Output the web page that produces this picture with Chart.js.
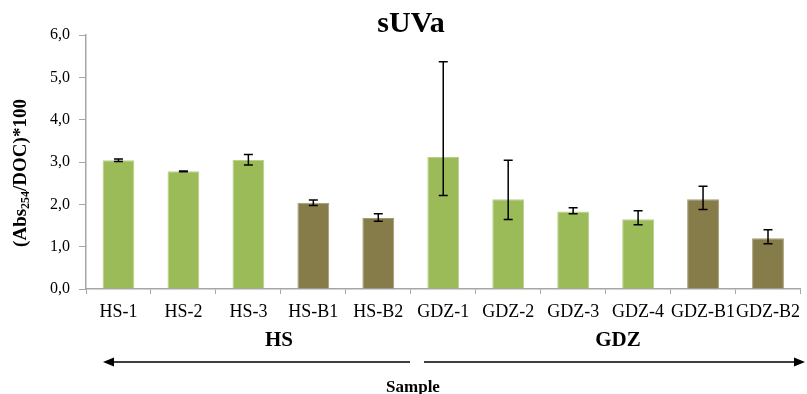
<!DOCTYPE html>
<html>
<head>
<meta charset="utf-8">
<title>sUVa</title>
<script src="https://cdn.jsdelivr.net/npm/chart.js@4.4.1/dist/chart.umd.min.js"></script>
<style>
  html, body { margin: 0; padding: 0; background: #ffffff; }
  #wrap { position: relative; width: 807px; height: 394px; }
</style>
</head>
<body>
<div id="wrap"><canvas id="c" width="807" height="394"></canvas></div>
<script>
// Samples and their mean sUVa values
const categories = ['HS-1', 'HS-2', 'HS-3', 'HS-B1', 'HS-B2', 'GDZ-1', 'GDZ-2', 'GDZ-3', 'GDZ-4', 'GDZ-B1', 'GDZ-B2'];
const sampleKind = ['S', 'S', 'S', 'B', 'B', 'S', 'S', 'S', 'S', 'B', 'B'];
const suvaMean = [3.04, 2.78, 3.05, 2.04, 1.68, 3.12, 2.12, 1.83, 1.65, 2.12, 1.20];
// Lower and upper ends of the error bars
const errLow  = [3.01, 2.77, 2.93, 1.97, 1.60, 2.21, 1.64, 1.78, 1.52, 1.88, 1.07];
const errHigh = [3.07, 2.79, 3.18, 2.10, 1.78, 5.37, 3.04, 1.92, 1.85, 2.43, 1.40];
const yTicks = [0, 1, 2, 3, 4, 5, 6];
// Site group captions under the sample labels
const groupNames = ['HS', 'GDZ'];

const GREEN = '#9BBB59', OLIVE = '#857C4A';
const GREEN_EDGE = '#B9D18C', OLIVE_EDGE = '#A39B73';
const AXIS = '#A6A6A6';
const SERIF = '"Liberation Serif", "Times New Roman", serif';

const errorBars = {
  id: 'errorBars',
  afterDatasetsDraw(chart) {
    const ctx = chart.ctx;
    const meta = chart.getDatasetMeta(0);
    const y = chart.scales.y;
    ctx.save();
    ctx.strokeStyle = '#000';
    ctx.lineWidth = 1.5;
    meta.data.forEach((bar, i) => {
      const x = bar.x;
      const yl = y.getPixelForValue(errLow[i]);
      const yh = y.getPixelForValue(errHigh[i]);
      ctx.beginPath();
      ctx.moveTo(x, yl); ctx.lineTo(x, yh);
      ctx.moveTo(x - 4.5, yl); ctx.lineTo(x + 4.5, yl);
      ctx.moveTo(x - 4.5, yh); ctx.lineTo(x + 4.5, yh);
      ctx.stroke();
    });
    ctx.restore();
  }
};

function arrowHead(ctx, tipX, y, dir) {
  ctx.beginPath();
  ctx.moveTo(tipX, y);
  ctx.lineTo(tipX - dir * 11, y - 4.5);
  ctx.lineTo(tipX - dir * 11, y + 4.5);
  ctx.closePath();
  ctx.fill();
}

const decorations = {
  id: 'decorations',
  afterDraw(chart) {
    const ctx = chart.ctx;
    ctx.save();
    ctx.fillStyle = '#000';
    ctx.strokeStyle = '#000';
    ctx.textAlign = 'center';
    ctx.textBaseline = 'middle';

    // chart title
    ctx.font = 'bold 30px ' + SERIF;
    ctx.fillText('sUVa', 411, 24);

    // group captions
    ctx.font = 'bold 21px ' + SERIF;
    ctx.fillText(groupNames[0], 279, 341);
    ctx.fillText(groupNames[1], 618, 341);

    // group span arrows
    ctx.lineWidth = 1.5;
    ctx.beginPath();
    ctx.moveTo(106, 362); ctx.lineTo(410, 362);
    ctx.moveTo(424, 362); ctx.lineTo(802, 362);
    ctx.stroke();
    arrowHead(ctx, 103, 362, -1);
    arrowHead(ctx, 805, 362, 1);

    // x axis title
    ctx.font = 'bold 17px ' + SERIF;
    ctx.fillText('Sample', 413, 388);

    // y axis title with subscript
    ctx.translate(21, 173);
    ctx.rotate(-Math.PI / 2);
    const big = 'bold 19px ' + SERIF, small = 'bold 12px ' + SERIF;
    const parts = [['(Abs', big, 0], ['254', small, 5], ['/DOC)*100', big, 0]];
    let total = 0;
    parts.forEach(p => { ctx.font = p[1]; total += ctx.measureText(p[0]).width; });
    let x = -total / 2;
    ctx.textAlign = 'left';
    parts.forEach(p => {
      ctx.font = p[1];
      ctx.fillText(p[0], x, p[2]);
      x += ctx.measureText(p[0]).width;
    });
    ctx.restore();
  }
};

new Chart(document.getElementById('c'), {
  type: 'bar',
  data: {
    labels: categories,
    datasets: [{
      data: suvaMean,
      backgroundColor: sampleKind.map(k => k === 'S' ? GREEN : OLIVE),
      borderColor: sampleKind.map(k => k === 'S' ? GREEN_EDGE : OLIVE_EDGE),
      borderWidth: 1,
      categoryPercentage: 1,
      barPercentage: 0.49
    }]
  },
  options: {
    responsive: false,
    animation: false,
    layout: { padding: { top: 35, right: 0, bottom: 0, left: 0 } },
    plugins: { legend: { display: false }, title: { display: false }, tooltip: { enabled: false } },
    scales: {
      x: {
        offset: true,
        grid: { display: true, drawOnChartArea: false, offset: true, tickLength: 5, color: AXIS, lineWidth: 1 },
        border: { color: AXIS, width: 1.5 },
        ticks: { color: '#000', font: { family: SERIF, size: 18 }, padding: 7, maxRotation: 0, autoSkip: false },
        afterFit(scale) { scale.height = 105; }
      },
      y: {
        min: 0, max: 6,
        afterBuildTicks(scale) { scale.ticks = yTicks.map(v => ({ value: v })); },
        grid: { display: true, drawOnChartArea: false, tickLength: 7, color: AXIS, lineWidth: 1 },
        border: { color: AXIS, width: 1.5 },
        ticks: {
          color: '#000', font: { family: SERIF, size: 16 }, padding: 9,
          callback: v => v.toFixed(1).replace('.', ',')
        },
        afterFit(scale) { scale.width = 86; }
      }
    }
  },
  plugins: [errorBars, decorations]
});
</script>
</body>
</html>
